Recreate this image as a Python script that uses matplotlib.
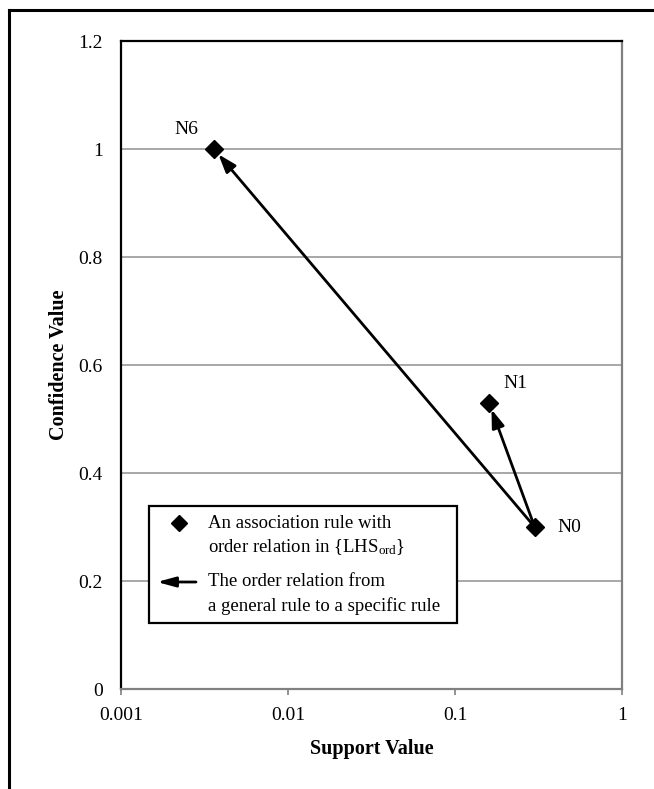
import matplotlib
matplotlib.use("Agg")
import matplotlib.pyplot as plt
import matplotlib.patches as patches
from matplotlib.lines import Line2D
import numpy as np

plt.rcParams['font.family'] = ['Liberation Serif', 'DejaVu Serif']
plt.rcParams['mathtext.fontset'] = 'custom'
plt.rcParams['mathtext.rm'] = 'Liberation Serif'
plt.rcParams['mathtext.it'] = 'Liberation Serif:italic'

# data
names = ["N0", "N1", "N6"]
support = [0.30, 0.16, 0.0036]
confidence = [0.30, 0.53, 1.0]
# arrows: from general rule to specific rule
edges = [("N0", "N6"), ("N0", "N1")]
label_offsets = {"N0": (25, 0), "N1": (19, 14), "N6": (-20, 14)}

xticks = [0.001, 0.01, 0.1, 1]
xticklabels = ["0.001", "0.01", "0.1", "1"]
yticks = [0, 0.2, 0.4, 0.6, 0.8, 1.0, 1.2]
yticklabels = ["0", "0.2", "0.4", "0.6", "0.8", "1", "1.2"]

W, H = 654, 789
fig = plt.figure(figsize=(W / 100, H / 100), dpi=100)

# outer frame (cut at right and bottom)
fig.add_artist(Line2D([9 / W, 9 / W], [0, 1 - 10 / H], transform=fig.transFigure,
                      color="black", lw=2.2))
fig.add_artist(Line2D([9 / W, 1], [1 - 10 / H, 1 - 10 / H], transform=fig.transFigure,
                      color="black", lw=2.2))

ax = fig.add_axes([121 / W, (H - 689) / H, 501 / W, 648 / H])
ax.set_xscale("log")
ax.set_xlim(0.001, 1)
ax.set_ylim(0, 1.2)

for y in yticks[1:-1]:
    ax.axhline(y, color="#a0a0a0", lw=1.3, zorder=0)

ax.set_xticks(xticks)
ax.set_xticklabels(xticklabels, fontsize=14)
ax.xaxis.set_minor_locator(matplotlib.ticker.NullLocator())
ax.set_yticks(yticks)
ax.set_yticklabels(yticklabels, fontsize=14)
ax.tick_params(axis="x", direction="out", length=4, width=1.2, color="#808080", pad=9)
ax.tick_params(axis="y", length=0, pad=13)

ax.spines["left"].set_color("black")
ax.spines["top"].set_color("black")
ax.spines["right"].set_color("#808080")
ax.spines["bottom"].set_color("#808080")
for s in ax.spines.values():
    s.set_linewidth(1.6)

ax.set_xlabel("Support Value", fontsize=14.5, fontweight="bold", labelpad=11)
ax.set_ylabel("Confidence Value", fontsize=14.5, fontweight="bold", labelpad=7)

pos = {n: (x, y) for n, x, y in zip(names, support, confidence)}
arrow = dict(arrowstyle="-|>,head_width=0.38,head_length=1.1", color="black",
             lw=2, shrinkA=0, shrinkB=5)
for a, b in edges:
    ax.annotate("", xy=pos[b], xytext=pos[a], arrowprops=arrow, zorder=2)

ax.plot(support, confidence, ls="none", marker="D", ms=9.5, color="black", zorder=3)
for n in names:
    ax.annotate(n, pos[n], xytext=label_offsets[n], textcoords="offset points",
                ha="center", va="center", fontsize=14)

# legend box
lx0, lx1 = (149 - 121) / 501, (457 - 121) / 501
ly0, ly1 = (689 - 623) / 648, (689 - 506) / 648
ax.add_patch(patches.Rectangle((lx0, ly0), lx1 - lx0, ly1 - ly0, transform=ax.transAxes,
                               facecolor="white", edgecolor="black", lw=1.6, zorder=4))


def ax_xy(px, py):
    return (px - 121) / 501, (689 - py) / 648


ax.plot(*ax_xy(179, 523), transform=ax.transAxes, marker="D", ms=8.5, color="black", zorder=5)
ax.text(*ax_xy(208, 523), "An association rule with", transform=ax.transAxes,
        fontsize=13.5, va="center", zorder=5)
ax.text(*ax_xy(208, 547), r"order relation in {LHS$_{\mathrm{ord}}$}", transform=ax.transAxes,
        fontsize=13.5, va="center", zorder=5)
ax.annotate("", xy=ax_xy(157, 582), xytext=ax_xy(196, 582), xycoords="axes fraction",
            textcoords="axes fraction", zorder=5,
            arrowprops=dict(arrowstyle="-|>,head_width=0.3,head_length=1.1",
                            color="black", lw=2, shrinkA=0, shrinkB=0))
ax.text(*ax_xy(208, 582), "The order relation from", transform=ax.transAxes,
        fontsize=13.5, va="center", zorder=5)
ax.text(*ax_xy(208, 606), "a general rule to a specific rule", transform=ax.transAxes,
        fontsize=13.5, va="center", zorder=5)

fig.savefig("out.png", dpi=100)
